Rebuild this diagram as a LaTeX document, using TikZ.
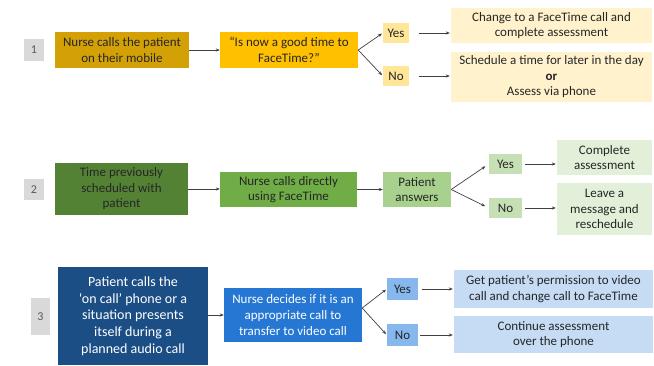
\documentclass[tikz,border=0pt]{standalone}
\usepackage{fontspec}
\setmainfont{Carlito}
\usetikzlibrary{arrows.meta}
\definecolor{numf}{HTML}{D9D9D9}
\definecolor{numt}{HTML}{595959}
\definecolor{txt}{HTML}{262626}
\definecolor{linec}{HTML}{404040}
\definecolor{oA}{HTML}{D3A106}
\definecolor{oB}{HTML}{FFC000}
\definecolor{oC}{HTML}{FFE699}
\definecolor{oD}{HTML}{FFF2CC}
\definecolor{gA}{HTML}{548235}
\definecolor{gB}{HTML}{70AD47}
\definecolor{gC}{HTML}{A9D18E}
\definecolor{gD}{HTML}{C5E0B4}
\definecolor{gE}{HTML}{E2F0D9}
\definecolor{bA}{HTML}{1C4E86}
\definecolor{bB}{HTML}{2577D3}
\definecolor{bC}{HTML}{86B8EE}
\definecolor{bD}{HTML}{C5DCF4}
\begin{document}
\begin{tikzpicture}[x=1pt,y=-1pt,
  box/.style={rectangle, inner sep=1pt, align=center, text=txt,
    font=\fontsize{13}{15.5}\selectfont},
  numbox/.style={box, fill=numf, text=numt, font=\fontsize{12}{14}\selectfont},
  conn/.style={draw=linec, line width=0.7pt, -{Stealth[length=4pt,width=3.2pt]}},
  res/.style={conn, shorten <=10pt, shorten >=1pt}]
\useasboundingbox (0,0) rectangle (654,365);

% Row 1
\node[numbox, minimum width=20pt, minimum height=22pt] (n1) at (34,50) {1};
\node[box, fill=oA, minimum width=134pt, minimum height=36pt] (a1) at (122,50) {Nurse calls the patient\\on their mobile};
\node[box, fill=oB, minimum width=138pt, minimum height=36pt] (b1) at (289,50) {“Is now a good time to\\FaceTime?”};
\node[box, fill=oC, minimum width=26pt, minimum height=20pt] (y1) at (396,33) {Yes};
\node[box, fill=oC, minimum width=26pt, minimum height=20pt] (no1) at (396,76) {No};
\node[box, fill=oD, minimum width=201pt, minimum height=35pt] (c1) at (551.5,25.5) {Change to a FaceTime call and\\complete assessment};
\node[box, fill=oD, minimum width=201pt, minimum height=50pt] (d1) at (551.5,77) {Schedule a time for later in the day\\\textbf{or}\\Assess via phone};
\draw[conn] (a1) -- (b1);
\draw[conn, shorten >=1pt] (b1.east) -- (y1.west);
\draw[conn, shorten >=1pt] (b1.east) -- (no1.west);
\draw[res] (y1.east) -- (y1.east -| c1.west);
\draw[res] (no1.east) -- (no1.east -| d1.west);

% Row 2
\node[numbox, minimum width=20pt, minimum height=21pt] (n2) at (34,189.5) {2};
\node[box, fill=gA, minimum width=133pt, minimum height=52pt] (a2) at (121.5,189) {Time previously\\scheduled with\\patient};
\node[box, fill=gB, minimum width=137pt, minimum height=35pt] (b2) at (288.5,189.5) {Nurse calls directly\\using FaceTime};
\node[box, fill=gC, minimum width=68pt, minimum height=35pt] (p2) at (417,189.5) {Patient\\answers};
\node[box, fill=gD, minimum width=33pt, minimum height=20pt] (y2) at (505.5,164) {Yes};
\node[box, fill=gD, minimum width=33pt, minimum height=20pt] (no2) at (505.5,208) {No};
\node[box, fill=gE, minimum width=95pt, minimum height=35pt] (c2) at (604.5,157.5) {Complete\\assessment};
\node[box, fill=gE, minimum width=95pt, minimum height=52pt] (d2) at (604.5,209) {Leave a\\message and\\reschedule};
\draw[conn] (a2.east) -- (a2.east -| b2.west);
\draw[conn] (b2) -- (p2);
\draw[conn, shorten >=4pt] (p2.east) -- (y2.west);
\draw[conn, shorten >=4pt] (p2.east) -- (no2.west);
\draw[res, shorten <=3pt] (y2.east) -- (y2.east -| c2.west);
\draw[res, shorten <=3pt] (no2.east) -- (no2.east -| d2.west);

% Row 3
\node[numbox, minimum width=19pt, minimum height=37pt] (n3) at (40.5,316.5) {3};
\node[box, fill=bA, text=white, minimum width=150pt, minimum height=98pt,
  font=\fontsize{14}{16.7}\selectfont] (a3) at (133,316) {Patient calls the\\‘on call’ phone or a\\situation presents\\itself during a\\planned audio call};
\node[box, fill=bB, text=white, minimum width=138pt, minimum height=54pt,
  font=\fontsize{13}{16}\selectfont] (b3) at (293,315) {Nurse decides if it is an\\appropriate call to\\transfer to video call};
\node[box, fill=bC, minimum width=31pt, minimum height=22pt] (y3) at (402.5,289) {Yes};
\node[box, fill=bC, minimum width=31pt, minimum height=22pt] (no3) at (402.5,335) {No};
\node[box, fill=bD, minimum width=199pt, minimum height=38pt] (c3) at (553.5,289) {Get patient’s permission to video\\call and change call to FaceTime};
\node[box, fill=bD, minimum width=199pt, minimum height=37pt] (d3) at (553.5,334.5) {Continue assessment\\over the phone};
\coordinate (s3) at (b3.east |- 0,308);
\draw[conn] (a3.east |- b3.west) -- (b3.west);
\draw[conn, shorten >=1pt] (s3) -- (y3.west);
\draw[conn, shorten >=1pt] (s3) -- (no3.west);
\draw[res, shorten <=4pt] (y3.east) -- (y3.east -| c3.west);
\draw[res, shorten <=2pt] (no3.east) -- (no3.east -| d3.west);
\end{tikzpicture}
\end{document}
